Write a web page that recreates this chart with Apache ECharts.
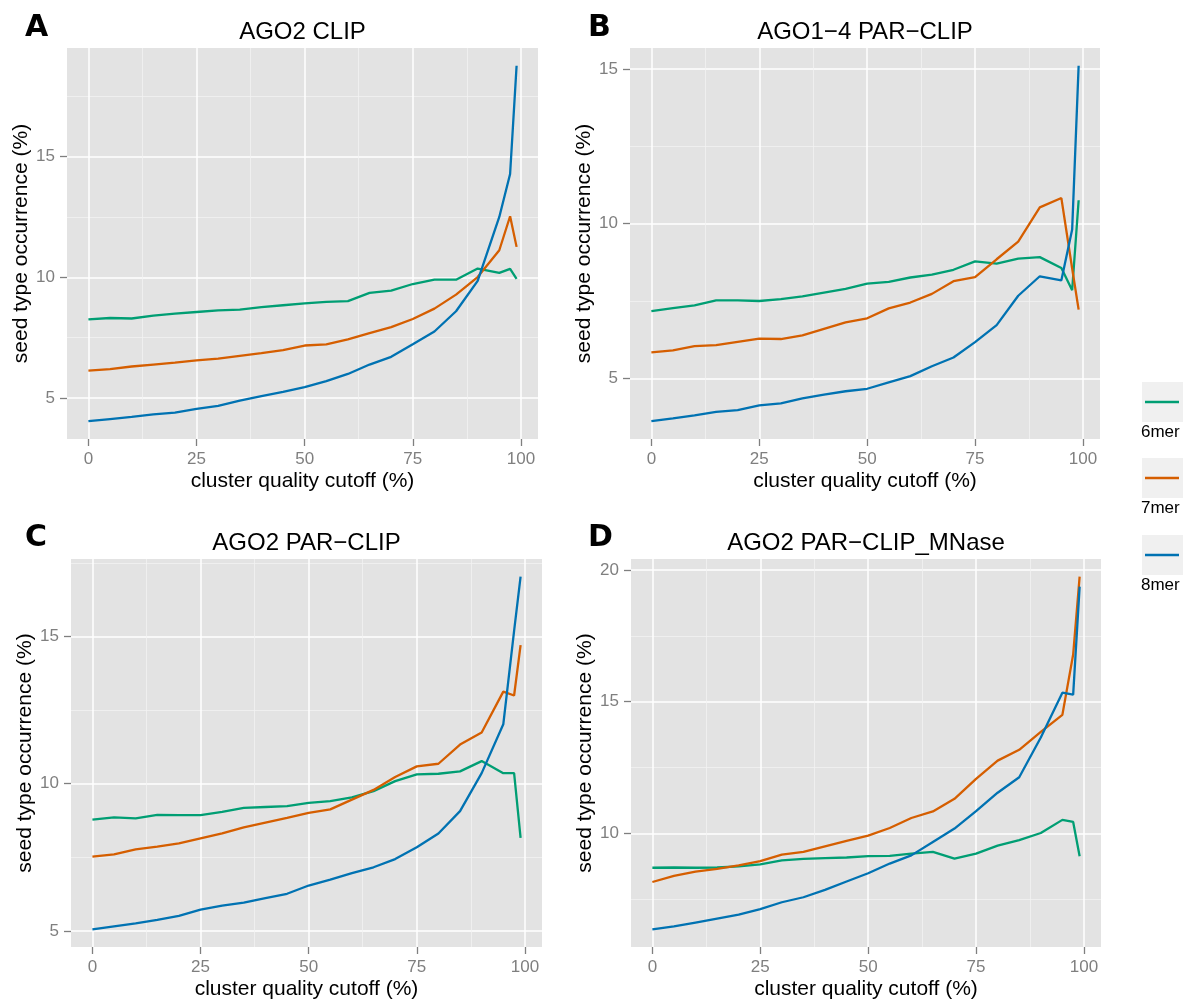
<!DOCTYPE html>
<html><head><meta charset="utf-8">
<script src="https://cdn.jsdelivr.net/npm/echarts@6/dist/echarts.min.js"></script>
<style>html,body{margin:0;padding:0;background:#fff}#c{width:1183px;height:1001px}</style>
</head><body><div id="c"></div>
<script>
// ---- data ----
const cutoffs = [0,5,10,15,20,25,30,35,40,45,50,55,60,65,70,75,80,85,90,95,97.5,99];
const seriesNames = ['6mer','7mer','8mer'];
const panelTitles = ['AGO2 CLIP','AGO1\u22124 PAR\u2212CLIP','AGO2 PAR\u2212CLIP','AGO2 PAR\u2212CLIP_MNase'];
const panelLetters = ['A','B','C','D'];
const xTickValues = [0,25,50,75,100];
const yTicksA = [5,10,15];
const yTicksB = [5,10,15];
const yTicksC = [5,10,15];
const yTicksD = [10,15,20];
const xTitle = 'cluster quality cutoff (%)';
const yTitle = 'seed type occurrence (%)';

const A_6mer = [8.25,8.31,8.29,8.41,8.49,8.56,8.63,8.66,8.76,8.84,8.92,8.98,9.01,9.35,9.45,9.72,9.90,9.90,10.36,10.18,10.35,9.93];
const A_7mer = [6.13,6.19,6.30,6.38,6.46,6.55,6.63,6.74,6.85,6.98,7.17,7.22,7.42,7.68,7.93,8.27,8.70,9.28,10.01,11.12,12.53,11.26];
const A_8mer = [4.03,4.12,4.21,4.31,4.39,4.54,4.67,4.88,5.07,5.25,5.44,5.69,5.99,6.38,6.70,7.22,7.75,8.59,9.85,12.50,14.28,18.77];

const B_6mer = [7.17,7.27,7.36,7.52,7.52,7.50,7.56,7.65,7.77,7.89,8.06,8.12,8.26,8.35,8.51,8.78,8.71,8.87,8.92,8.57,7.85,10.76];
const B_7mer = [5.84,5.90,6.04,6.07,6.18,6.28,6.27,6.39,6.60,6.81,6.94,7.26,7.45,7.73,8.14,8.27,8.85,9.42,10.53,10.83,8.55,7.22];
const B_8mer = [3.61,3.70,3.80,3.91,3.97,4.12,4.19,4.35,4.47,4.58,4.66,4.87,5.07,5.39,5.67,6.17,6.72,7.67,8.30,8.17,9.81,15.11];

const C_6mer = [8.78,8.86,8.82,8.94,8.93,8.93,9.04,9.18,9.21,9.24,9.35,9.41,9.54,9.75,10.09,10.32,10.34,10.42,10.77,10.36,10.36,8.16];
const C_7mer = [7.52,7.60,7.77,7.86,7.97,8.14,8.31,8.52,8.68,8.84,9.01,9.13,9.46,9.79,10.23,10.59,10.68,11.33,11.74,13.13,13.00,14.71];
const C_8mer = [5.05,5.15,5.25,5.37,5.51,5.72,5.86,5.96,6.11,6.26,6.54,6.74,6.96,7.16,7.44,7.84,8.31,9.07,10.36,12.02,15.20,17.04];

const D_6mer = [8.69,8.70,8.69,8.70,8.74,8.82,8.97,9.03,9.06,9.08,9.13,9.14,9.23,9.29,9.04,9.23,9.53,9.74,10.01,10.51,10.43,9.13];
const D_7mer = [8.15,8.38,8.54,8.65,8.78,8.94,9.19,9.29,9.50,9.71,9.91,10.20,10.58,10.83,11.31,12.07,12.76,13.17,13.85,14.50,16.79,19.75];
const D_8mer = [6.35,6.46,6.61,6.76,6.91,7.12,7.38,7.57,7.85,8.17,8.48,8.85,9.16,9.67,10.18,10.84,11.54,12.13,13.64,15.34,15.27,19.37];

// ---- style / layout ----
const FONT = '"Liberation Sans", Arial, Helvetica, sans-serif';
const COLORS = ['#009E73', '#D55E00', '#0072B2'];
const panelData = [[A_6mer,A_7mer,A_8mer],[B_6mer,B_7mer,B_8mer],[C_6mer,C_7mer,C_8mer],[D_6mer,D_7mer,D_8mer]];
const panelYTicks = [yTicksA, yTicksB, yTicksC, yTicksD];
const gridBoxes = [
  {left: 67,  top: 48,  width: 471, height: 391},
  {left: 630, top: 48,  width: 470, height: 391},
  {left: 71,  top: 559, width: 471, height: 392},
  {left: 631, top: 559, width: 470, height: 392}
];
const titleTops = [20, 20, 531, 531];
const letterPos = [[25, 13], [588, 13], [25, 523], [588, 523]];

function expandRange(arrs, mult) {
  let lo = Infinity, hi = -Infinity;
  arrs.forEach(a => a.forEach(v => { lo = Math.min(lo, v); hi = Math.max(hi, v); }));
  const d = (hi - lo) * mult;
  return [lo - d, hi + d];
}
const xRange = expandRange([cutoffs], 0.05);

const grids = [], xAxes = [], yAxes = [], series = [], titles = [], graphics = [];
for (let p = 0; p < 4; p++) {
  const g = gridBoxes[p];
  grids.push(Object.assign({show: true, backgroundColor: '#E3E3E3', borderWidth: 0, containLabel: false}, g));
  const yr = expandRange(panelData[p], 0.05);
  xAxes.push({
    gridIndex: p, type: 'value', min: xRange[0], max: xRange[1],
    minInterval: 25, maxInterval: 25, splitNumber: 4,
    name: xTitle, nameLocation: 'middle', nameGap: 32,
    nameTextStyle: {fontSize: 21, color: '#000', fontFamily: FONT},
    axisLine: {show: false, onZero: false},
    axisTick: {show: true, length: 7, customValues: xTickValues, lineStyle: {color: '#7f7f7f', width: 1.3}},
    axisLabel: {customValues: xTickValues, margin: 12, fontSize: 17, color: '#7f7f7f', fontFamily: FONT},
    splitLine: {show: true, lineStyle: {color: '#ffffff', width: 1.5}},
    minorTick: {show: false, splitNumber: 2},
    minorSplitLine: {show: true, lineStyle: {color: '#F2F2F2', width: 0.8}}
  });
  yAxes.push({
    gridIndex: p, type: 'value', min: yr[0], max: yr[1],
    minInterval: 5, maxInterval: 5, splitNumber: 3,
    name: yTitle, nameLocation: 'middle', nameGap: 34,
    nameTextStyle: {fontSize: 21, color: '#000', fontFamily: FONT},
    axisLine: {show: false, onZero: false},
    axisTick: {show: true, length: 7, customValues: panelYTicks[p], lineStyle: {color: '#7f7f7f', width: 1.3}},
    axisLabel: {customValues: panelYTicks[p], margin: 12, fontSize: 17, color: '#7f7f7f', fontFamily: FONT},
    splitLine: {show: true, lineStyle: {color: '#ffffff', width: 1.5}},
    minorTick: {show: false, splitNumber: 2},
    minorSplitLine: {show: true, lineStyle: {color: '#F2F2F2', width: 0.8}}
  });
  for (let s = 0; s < 3; s++) {
    series.push({
      type: 'line', name: seriesNames[s], xAxisIndex: p, yAxisIndex: p,
      data: cutoffs.map((x, i) => [x, panelData[p][s][i]]),
      showSymbol: false, symbol: 'none', clip: true,
      lineStyle: {color: COLORS[s], width: 2.3}, itemStyle: {color: COLORS[s]},
      z: 3 + s
    });
  }
  titles.push({
    text: panelTitles[p], left: g.left + g.width / 2, top: titleTops[p], textAlign: 'center', padding: 0,
    textStyle: {fontSize: 24, fontWeight: 'normal', color: '#000', fontFamily: FONT}
  });
  graphics.push({
    type: 'text', left: letterPos[p][0], top: letterPos[p][1],
    style: {text: panelLetters[p], fontSize: 30, fontWeight: 'bold', fill: '#000', fontFamily: '"DejaVu Sans", ' + FONT}
  });
}
// legend (drawn as key boxes like ggplot)
const legendTops = [382, 458, 535];
for (let s = 0; s < 3; s++) {
  const t = legendTops[s];
  graphics.push({type: 'rect', shape: {x: 1142, y: t, width: 41, height: 40}, style: {fill: '#F0F0F0'}});
  graphics.push({type: 'line', shape: {x1: 1145, y1: t + 20, x2: 1179, y2: t + 20}, style: {stroke: COLORS[s], lineWidth: 2.5}});
  graphics.push({type: 'text', x: 1141, y: t + 50, style: {text: seriesNames[s], fontSize: 17, fill: '#000', fontFamily: FONT, verticalAlign: 'middle'}});
}

const chart = echarts.init(document.getElementById('c'), null, {renderer: 'canvas'});
chart.setOption({
  animation: false,
  backgroundColor: '#ffffff',
  title: titles,
  grid: grids,
  xAxis: xAxes,
  yAxis: yAxes,
  series: series,
  graphic: graphics
});
</script>
</body></html>
